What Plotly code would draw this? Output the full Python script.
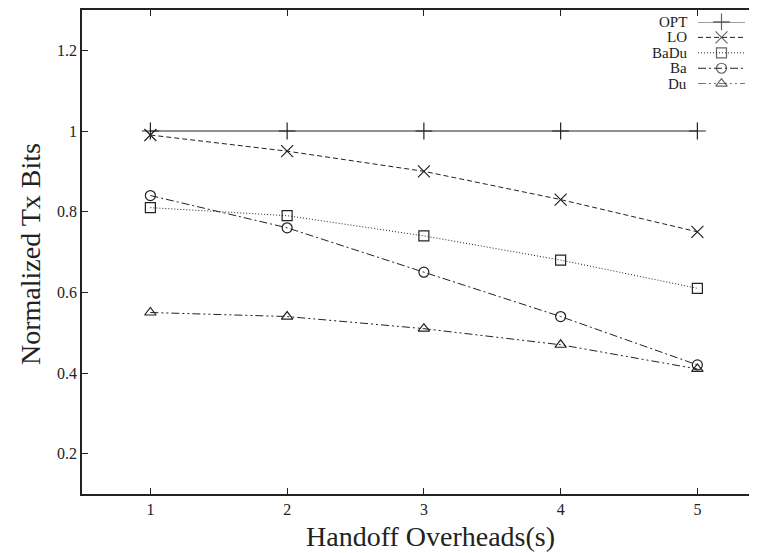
import plotly.graph_objects as go

x_vals = [1, 2, 3, 4, 5]
series_names = ["OPT", "LO", "BaDu", "Ba", "Du"]
opt = [1.0, 1.0, 1.0, 1.0, 1.0]
lo = [0.99, 0.95, 0.90, 0.83, 0.75]
badu = [0.81, 0.79, 0.74, 0.68, 0.61]
ba = [0.84, 0.76, 0.65, 0.54, 0.42]
du = [0.55, 0.54, 0.51, 0.47, 0.41]
y_ticks = [0.2, 0.4, 0.6, 0.8, 1.0, 1.2]
y_ticklabels = ["0.2", "0.4", "0.6", "0.8", "1", "1.2"]

values = [opt, lo, badu, ba, du]
dashes = ["solid", "5px,3px", "1px,2px", "8px,3px,2px,3px", "8px,3px,2px,3px,2px,3px"]
symbols = ["cross-thin-open", "x-thin-open", "square-open", "circle-open", "triangle-up-open"]
sizes = [12, 12, 10, 10, 10]
col = "#222222"
FONT = "Liberation Serif"

# page body has an 8px margin: figure is placed at (8,8) in the window
OFF = 8
W, H = 757 - OFF, 553 - OFF
PL, PT, PB = 82, 8, 494          # plot area in window pixels
L = PL - OFF
T = PT - OFF
B = (H + OFF) - PB
pw = W - L
ph = H - T - B

def wx(px):
    return (px - PL) / pw

def wy(py):
    return (PB - py) / ph

fig = go.Figure()
for name, v, d, s, sz in zip(series_names, values, dashes, symbols, sizes):
    fig.add_trace(go.Scatter(
        x=x_vals, y=v, mode="lines+markers", name=name,
        line=dict(color=col, width=1, dash=d),
        marker=dict(symbol=s, size=sz, color=col, line=dict(color=col, width=1.2)),
        cliponaxis=False, showlegend=False,
    ))

# legend samples drawn on a small helper axis
n = len(series_names)
for i, (name, d, s, sz) in enumerate(zip(series_names, dashes, symbols, sizes)):
    yy = n - 1 - i
    fig.add_trace(go.Scatter(
        x=[0, 0.5, 1], y=[yy, yy, yy], mode="lines+markers", xaxis="x2", yaxis="y2",
        line=dict(color=col, width=1, dash=d),
        marker=dict(symbol=s, size=[0, sz, 0], color=col, line=dict(color=col, width=1.2)),
        cliponaxis=False, showlegend=False, hoverinfo="skip",
    ))
    fig.add_annotation(x=0, y=yy, xref="x2", yref="y2", text=name, showarrow=False,
                       xanchor="right", xshift=-9, font=dict(family=FONT, size=15, color=col))

fig.add_annotation(x=wx(430), y=wy(537), xref="paper", yref="paper", text="Handoff Overheads(s)",
                   showarrow=False, xanchor="center", yanchor="middle",
                   font=dict(family=FONT, size=28, color=col))
fig.add_annotation(x=wx(31), y=wy(253), xref="paper", yref="paper", text="Normalized Tx Bits",
                   showarrow=False, xanchor="center", yanchor="middle", textangle=-90,
                   font=dict(family=FONT, size=28, color=col))

fig.update_layout(
    width=W, height=H,
    margin=dict(l=L, r=0, t=T, b=B),
    plot_bgcolor="white", paper_bgcolor="white",
    font=dict(family=FONT, color=col),
    xaxis=dict(
        range=[0.5, 0.5 + pw / 136.75], tickvals=x_vals, ticktext=[str(v) for v in x_vals],
        ticks="inside", ticklen=6, tickcolor=col, tickwidth=1,
        showline=True, linecolor=col, linewidth=1.5, mirror="ticks",
        showgrid=False, zeroline=False,
        tickfont=dict(family=FONT, size=16, color=col),
    ),
    yaxis=dict(
        range=[0.1, 1.3], tickvals=y_ticks, ticktext=y_ticklabels,
        ticks="inside", ticklen=6, tickcolor=col, tickwidth=1,
        showline=True, linecolor=col, linewidth=1.5, mirror=False,
        showgrid=False, zeroline=False,
        tickfont=dict(family=FONT, size=16, color=col),
    ),
    xaxis2=dict(domain=[wx(698), wx(745)], range=[0, 1], visible=False,
                anchor="y2", fixedrange=True),
    yaxis2=dict(domain=[wy(82), wy(20)], range=[0, n - 1], visible=False,
                anchor="x2", fixedrange=True),
    showlegend=False,
)

fig.write_html("out.html")
